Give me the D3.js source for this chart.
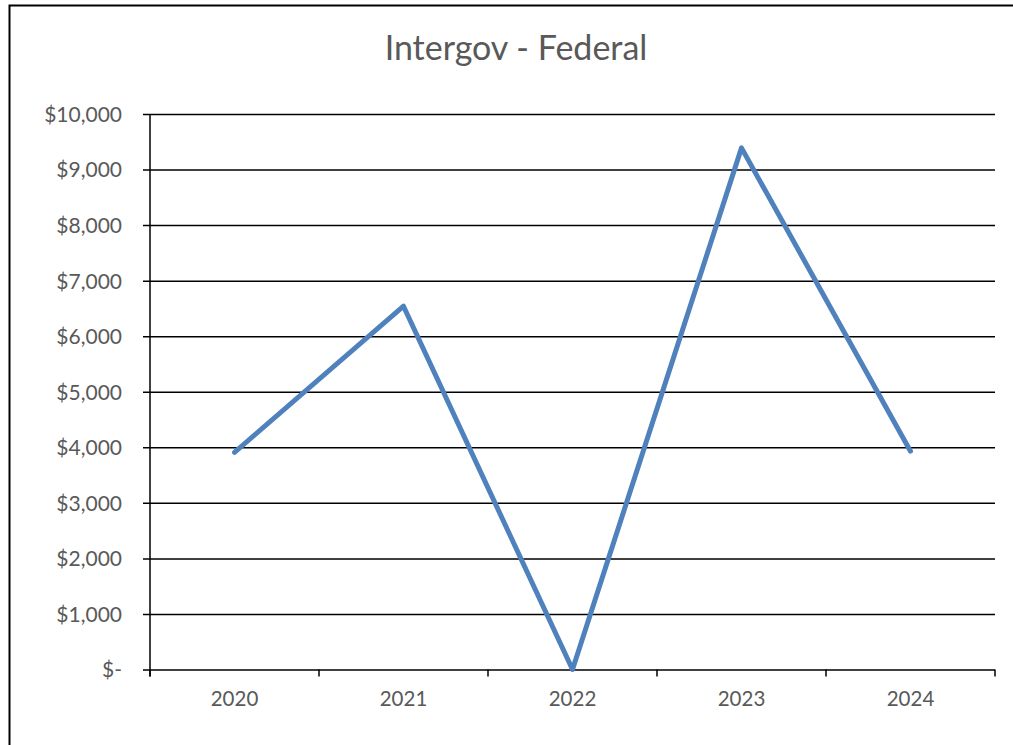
<!DOCTYPE html>
<html>
<head>
<meta charset="utf-8">
<script src="https://cdn.jsdelivr.net/npm/d3@7"></script>
<style>
  body { margin: 0; background: #fff; }
  text { font-family: Lato, "Open Sans", sans-serif; fill: #595959; }
</style>
</head>
<body>
<div id="chart"></div>
<script>
// Chart data
const years = ['2020', '2021', '2022', '2023', '2024']
const amounts = [3910, 6540, 0, 9390, 3930]
const yTicks = [0, 1000, 2000, 3000, 4000, 5000, 6000, 7000, 8000, 9000, 10000]

const width = 1013,
  height = 745,
  plotLeft = 150,
  plotRight = 995,
  plotTop = 114,
  plotBottom = 669.5

let svg = d3.select('#chart')
  .append('svg')
  .attr('width', width)
  .attr('height', height)

// outer border
svg.append('rect')
  .attr('x', 9.5)
  .attr('y', 5.5)
  .attr('width', 1010)
  .attr('height', 760)
  .attr('fill', 'none')
  .attr('stroke', '#000')
  .attr('stroke-width', 2)

let x = d3.scaleBand()
  .domain(years)
  .range([plotLeft, plotRight])

let y = d3.scaleLinear()
  .domain([0, 10000])
  .range([plotBottom, plotTop])

let fmt = (d) => d === 0 ? '$-' : '$' + d3.format(',')(d)

// gridlines + y labels
let yAxis = d3.axisLeft(y)
  .tickValues(yTicks)
  .tickSize(0)
  .tickFormat(fmt)

let gy = svg.append('g')
  .attr('transform', `translate(${plotLeft - 7}, 0)`)
  .call(yAxis)
gy.select('.domain').remove()
gy.selectAll('line')
  .attr('x1', 0)
  .attr('x2', plotRight - plotLeft + 7)
  .attr('stroke', '#000')
  .attr('stroke-width', 1.5)
gy.selectAll('text')
  .attr('x', 122 - (plotLeft - 7))
  .attr('dy', '0.35em')
  .style('font-size', '21px')

// vertical axis line
svg.append('line')
  .attr('x1', plotLeft)
  .attr('x2', plotLeft)
  .attr('y1', plotTop)
  .attr('y2', plotBottom + 7)
  .attr('stroke', '#000')
  .attr('stroke-width', 1.5)

// x axis with boundary ticks
let xAxis = d3.axisBottom(x).tickSize(0).tickPadding(22)
let gx = svg.append('g')
  .attr('transform', `translate(0, ${plotBottom})`)
  .call(xAxis)
gx.select('.domain').remove()
gx.selectAll('text').style('font-size', '20.5px')

let bounds = years.map(d => x(d)).concat([plotRight])
svg.append('g')
  .selectAll('line')
  .data(bounds)
  .enter()
  .append('line')
  .attr('x1', d => d)
  .attr('x2', d => d)
  .attr('y1', plotBottom)
  .attr('y2', plotBottom + 7)
  .attr('stroke', '#000')
  .attr('stroke-width', 1.5)

// series line
let line = d3.line()
  .x((d, i) => x(years[i]) + x.bandwidth() / 2)
  .y(d => y(d))

svg.append('path')
  .datum(amounts)
  .attr('d', line)
  .attr('fill', 'none')
  .attr('stroke', '#4f81bd')
  .attr('stroke-width', 5)
  .attr('stroke-linecap', 'round')
  .attr('stroke-linejoin', 'round')

// title
svg.append('text')
  .attr('x', 516)
  .attr('y', 60)
  .attr('text-anchor', 'middle')
  .style('font-size', '34px')
  .text('Intergov - Federal')
</script>
</body>
</html>
